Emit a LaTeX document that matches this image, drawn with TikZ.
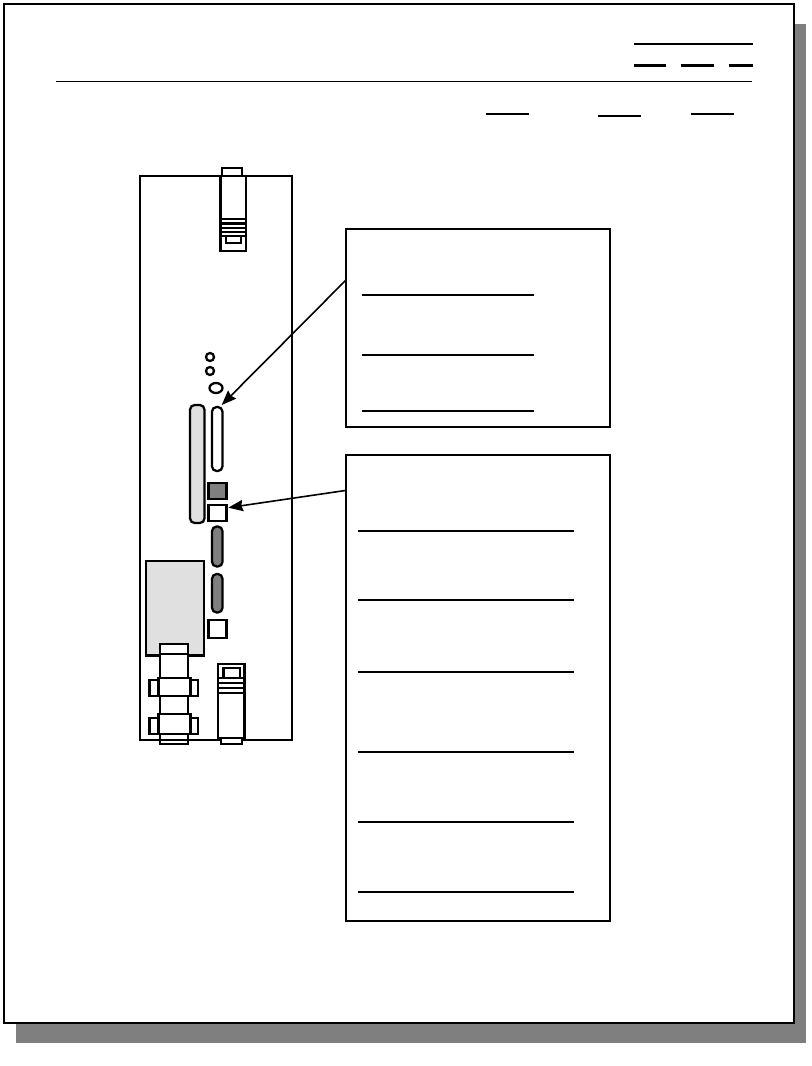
\documentclass[tikz,border=0pt]{standalone}
\usepackage{tikz}
\usetikzlibrary{arrows.meta}

\definecolor{shadowgray}{HTML}{7F7F7F}
\definecolor{lightpart}{HTML}{E0E0E0}
\tikzset{
	rule/.style = {line width = 1.7pt},
	part/.style = {draw, line width = 1.7pt, fill = white},
	darkpart/.style = {part, fill = shadowgray},
	greypart/.style = {part, fill = lightpart},
	callout/.style = {part, rectangle, inner sep = 0pt, outer sep = 0pt, minimum width = 198pt},
	pointer/.style = {line width = 1.2pt, -{Stealth[length = 11pt, width = 8.5pt, inset = 1.2pt]}}
}

\begin{document}
\begin{tikzpicture}[x = 0.75pt, y = -0.75pt]
	\useasboundingbox (0, 0) rectangle (811, 1066);

	\fill[shadowgray] (16, 24) rectangle (806, 1043);
	\draw[part] (4, 4) rectangle (794, 1023);

	\draw[line width = 0.75pt] (56, 81.5)--(752, 81.5);
	\draw[rule] (634, 44)--(752.5, 44);
	\draw[rule] (634, 65.5)--(666, 65.5);
	\draw[rule] (680.5, 65.5)--(714, 65.5);
	\draw[rule] (728.5, 65.5)--(752.5, 65.5);
	\draw[rule] (486, 114)--(529, 114);
	\draw[rule] (597.5, 116)--(640.5, 116);
	\draw[rule] (691, 114)--(734, 114);

	\draw[part] (140, 176) rectangle (292, 740);

	\draw[part] (222, 168) rectangle (242, 176);
	\draw[part] (220.5, 176) rectangle (246, 251);
	\draw[rule] (220.5, 219)--(246, 219);
	\draw[rule] (220.5, 223.5)--(246, 223.5);
	\draw[rule] (220.5, 228)--(246, 228);
	\draw[rule] (220.5, 232)--(246, 232);
	\draw[rule] (220.5, 236)--(246, 236);
	\draw[rule] (226, 236)--(226, 243)--(241, 243)--(241, 236);

	\draw[part] (210, 357) circle (4);
	\draw[part] (210, 371) circle (4);
	\draw[part] (216, 388) ellipse (6.5 and 5);

	\draw[greypart, rounded corners = 3.5pt] (190, 405) rectangle (204.5, 523);
	\node[part, rectangle, rounded corners = 3.5pt, inner sep = 0pt, outer sep = 0pt, minimum width = 7.9pt, minimum height = 48pt] (slot) at (217.2, 439) {};
	\draw[darkpart] (208.5, 483) rectangle (226.5, 499);
	\node[part, rectangle, inner sep = 0pt, outer sep = 0pt, minimum width = 13.5pt, minimum height = 12.2pt] (port) at (217.5, 513) {};
	\draw[darkpart, rounded corners = 3.5pt] (212, 526.5) rectangle (222.5, 566.5);
	\draw[darkpart, rounded corners = 3.5pt] (212, 574) rectangle (222.5, 612.5);
	\draw[part] (208.5, 620) rectangle (226.5, 638);

	\draw[greypart] (146, 561) rectangle (204, 655.5);

	\draw[part] (160, 654) rectangle (188, 740);
	\draw[part] (160, 644) rectangle (188, 654);
	\draw[part] (160, 740) rectangle (188, 744);
	\draw[part] (149.5, 680) rectangle (198, 696);
	\draw[part] (158.5, 678) rectangle (190.5, 696);
	\draw[part] (149.5, 718) rectangle (198, 734);
	\draw[part] (158.5, 714) rectangle (190.5, 734);

	\draw[part] (221, 738) rectangle (242, 744);
	\draw[part] (218, 664) rectangle (244.5, 738);
	\draw[part] (223.5, 668) rectangle (240, 678);
	\draw[rule] (218, 678)--(244.5, 678);
	\draw[rule] (218, 683)--(244.5, 683);
	\draw[rule] (218, 688)--(244.5, 688);
	\draw[rule] (218, 693)--(244.5, 693);

	\node[callout, minimum height = 148.5pt] (upperbox) at (478, 328) {};
	\draw[rule] (362, 295)--(534, 295);
	\draw[rule] (362, 355)--(534, 355);
	\draw[rule] (362, 411)--(534, 411);

	\node[callout, minimum height = 349.5pt] (lowerbox) at (478, 688) {};
	\draw[rule] (358, 531)--(574, 531);
	\draw[rule] (358, 600)--(574, 600);
	\draw[rule] (358, 672)--(574, 672);
	\draw[rule] (358, 752)--(574, 752);
	\draw[rule] (358, 822)--(574, 822);
	\draw[rule] (358, 892)--(574, 892);

	\draw[pointer] ([yshift = 36pt]upperbox.west)--([xshift = 3.4pt, yshift = 1.5pt]slot.north);
	\draw[pointer] ([yshift = 148.2pt]lowerbox.west)--([xshift = 1.4pt, yshift = 4pt]port.east);
\end{tikzpicture}
\end{document}
